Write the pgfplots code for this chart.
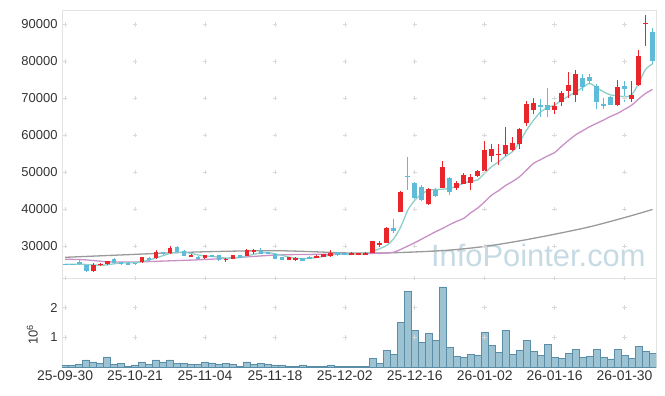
\documentclass[border=0pt]{standalone}
\usepackage{pgfplots}
\pgfplotsset{compat=1.18}
\usepackage{pgfplotstable}
\usepackage{fontspec}
\setmainfont{Liberation Sans}
\definecolor{upred}{HTML}{E8262C}
\definecolor{dncyan}{HTML}{5EBCD8}
\definecolor{mafive}{HTML}{8ECFC9}
\definecolor{matwenty}{HTML}{C990C8}
\definecolor{masixty}{HTML}{9A9A9A}
\definecolor{volfill}{HTML}{9DC2D2}
\definecolor{voledge}{HTML}{5A8EA8}
\definecolor{gridc}{HTML}{D9D9D9}
\definecolor{framec}{HTML}{E3E3E3}
\definecolor{wm}{HTML}{C6DAE4}
\definecolor{txt}{HTML}{333333}

% up candles: index open high low close
\pgfplotstableread{
i o h l c
4 23200 25300 23100 24800
5 24800 25500 24600 25250
6 25050 25900 25000 25850
11 25600 27100 25500 26900
13 26700 28900 26500 28400
15 28000 29950 27900 29500
18 27100 27750 27000 27650
20 26750 27700 26600 27550
23 26300 26750 25800 26500
24 26550 27700 26450 27550
26 27400 29200 27300 29000
27 28450 29300 27900 28850
32 26350 27000 26200 26900
33 26350 26900 26000 26600
36 26850 27450 26800 27400
37 27150 27900 27100 27850
38 27400 28900 27100 28050
41 27600 28300 27500 28150
42 27600 28200 27500 28100
43 27700 28300 27600 28200
44 28100 31500 28000 31350
45 30350 31500 29750 30700
46 30900 35050 30700 34900
48 39300 44900 39200 44700
52 41300 45800 41200 45400
54 45800 52900 45700 51450
56 45800 47600 45300 47150
57 46900 49700 46800 49300
58 47150 49500 45100 48750
59 49000 50600 48800 50300
60 50300 58500 50200 56000
61 54450 57600 52700 56350
62 54550 57600 51900 55000
63 54800 62200 54500 57400
64 55900 59400 55700 57800
65 57500 61900 56300 61600
66 63200 69300 62500 68400
67 66900 70100 65700 68600
70 66800 69000 65700 67900
71 68950 72000 67800 71300
72 72000 77000 69950 73550
73 70850 77550 69050 76550
79 68300 74900 67800 72950
81 69750 74650 69000 70850
82 73550 83050 73200 81400
83 90000 92500 84100 90350
}\upc

% down candles
\pgfplotstableread{
i o h l c
0 25150 25250 24950 24950
1 25100 25200 24950 24950
2 25600 26200 24900 25050
3 24800 25000 23000 23200
7 26450 26700 25300 25400
8 25550 25700 25000 25050
9 25500 25600 24950 25000
10 25350 25500 25000 25150
12 26800 27000 26000 26100
14 28300 28500 27700 27800
16 29800 29900 28200 28300
17 28700 28900 27300 27350
19 27100 27200 26400 26500
21 27450 27600 27000 27050
22 27550 27700 26000 26150
25 27550 27700 26700 26850
28 28650 29350 27850 27950
29 28300 28400 27850 27950
30 27950 28000 26500 26600
31 27000 27100 26250 26300
34 26750 26850 25950 26050
35 27100 27200 26500 26600
39 28400 28500 27300 27500
40 28100 28200 27500 27600
47 34950 37400 33400 34150
49 48950 54000 45300 48650
50 47100 47300 42800 43100
51 46050 46400 42100 42450
53 45150 45700 43350 43600
55 48400 48600 43800 44550
68 68050 69700 65000 67700
69 68050 72900 65000 66800
74 75450 76550 71850 72950
75 75750 76550 73750 74650
76 73300 74000 67000 69050
77 68400 69950 67000 67900
78 70300 70500 68100 68250
80 73200 74650 69050 72550
84 87900 89100 79400 80050
}\dnc

\pgfplotstableread{
i v
0 25050
1 25050
2 25100
3 25000
4 24900
5 24800
6 24900
7 25200
8 25400
9 25500
10 25500
11 25800
12 26200
13 26800
14 27400
15 28000
16 28300
17 28300
18 28000
19 27600
20 27300
21 27200
22 27000
23 26700
24 26800
25 26900
26 27300
27 27800
28 28100
29 28200
30 27900
31 27500
32 27000
33 26700
34 26600
35 26700
36 26900
37 27200
38 27600
39 27800
40 27800
41 27800
42 27900
43 28000
44 28600
45 29300
46 30200
47 32000
48 35200
49 39700
50 42400
51 44100
52 45100
53 45300
54 45400
55 45600
56 46200
57 47000
58 47600
59 47900
60 49700
61 51500
62 52800
63 54300
64 55600
65 58200
66 61400
67 64100
68 66300
69 67500
70 68150
71 69500
72 70600
73 71750
74 72900
75 74000
76 72900
77 71750
78 70900
79 70700
80 70400
81 70900
82 74000
83 77800
84 79300
}\mafivetab

\pgfplotstableread{
i v
0 26450
3 26250
6 25750
9 25650
12 25800
15 26000
18 26200
21 26450
24 26800
27 27200
30 27550
33 27700
36 27750
39 27850
42 27900
44 28000
46 28150
47 28350
48 29100
49 30000
50 30900
51 31900
52 32900
53 33900
54 34800
55 35800
56 36700
57 37500
58 39000
59 40300
60 42000
61 43800
62 45000
63 46400
64 47500
65 48800
66 50600
67 52400
68 53400
69 54400
70 55300
71 57000
72 58600
73 60100
74 61200
75 62300
76 63200
77 64100
78 65100
79 65900
80 67000
81 68100
82 69800
83 71300
84 72400
}\matwentytab

\pgfplotstableread{
i v
0 26950
5 27350
10 27750
15 28150
20 28450
25 28650
30 28750
35 28500
40 28150
45 28100
50 28400
55 28900
60 29900
65 31400
70 33200
75 35200
80 37700
84 39900
}\masixtytab

\pgfplotstableread{
i v
0 50000
1 50000
2 100000
3 240000
4 170000
5 130000
6 340000
7 100000
8 130000
9 30000
10 70000
11 170000
12 100000
13 240000
14 170000
15 240000
16 130000
17 130000
18 100000
19 100000
20 170000
21 130000
22 100000
23 130000
24 100000
25 30000
26 170000
27 100000
28 130000
29 100000
30 70000
31 70000
32 30000
33 30000
34 70000
35 30000
36 30000
37 30000
38 70000
39 30000
40 30000
41 30000
42 30000
43 30000
44 300000
45 130000
46 570000
47 430000
48 1500000
49 2540000
50 1230000
51 830000
52 1130000
53 900000
54 2700000
55 670000
56 370000
57 330000
58 430000
59 400000
60 1170000
61 730000
62 500000
63 1230000
64 430000
65 570000
66 900000
67 530000
68 400000
69 770000
70 330000
71 300000
72 470000
73 600000
74 330000
75 370000
76 600000
77 330000
78 270000
79 600000
80 400000
81 300000
82 700000
83 530000
84 470000
}\voltab

\pgfplotsset{
  base/.style={
    scale only axis, width=594bp,
    xmin=-0.45, xmax=84.5,
    axis line style={framec, line width=0.8bp},
    major tick length=0pt,
    tick style={draw=none},
    ticklabel style={font=\fontsize{13}{15}\selectfont, text=txt},
    /pgf/number format/assume math mode=true,
  },
  crossmark/.style={only marks, mark=+, mark size=2.2bp, gridc, mark options={line width=0.6bp}},
  candle/.style={only marks, mark=none, mark size=0pt, mark options={draw=none, fill=none}},
}

\begin{document}
\begin{tikzpicture}
\begin{axis}[base, name=main, set layers,
  at={(0bp,89bp)}, anchor=south west, height=268bp,
  ymin=21350, ymax=93900,
  xtick=\empty,
  ytick={30000,40000,50000,60000,70000,80000,90000},
  scaled y ticks=false,
  yticklabel style={xshift=-1bp, /pgf/number format/fixed, /pgf/number format/1000 sep={}},
]
\begin{pgfonlayer}{axis background}
\node[text=wm, anchor=base west, inner sep=0pt, font=\fontsize{31}{31}\selectfont] at (axis cs:52.3,24550) {InfoPointer.com};
\end{pgfonlayer}
\pgfplotsinvokeforeach{30000,40000,50000,60000,70000,80000,90000}{
  \addplot[crossmark] coordinates {(0,#1) (10,#1) (20,#1) (30,#1) (40,#1) (50,#1) (60,#1) (70,#1) (80,#1)};
}
\addplot[masixty, line width=1.3bp, smooth, mark=none] table[x=i, y=v] {\masixtytab};
\addplot[matwenty, line width=1.3bp, smooth, mark=none] table[x=i, y=v] {\matwentytab};
\addplot[mafive, line width=1.3bp, smooth, mark=none] table[x=i, y=v] {\mafivetab};
% wicks
\addplot[upred, candle, error bars/.cd, y dir=plus, y explicit,
  error mark=none, error bar style={line width=1bp, upred}]
  table[x=i, y=l, y error plus expr={\thisrow{h}-\thisrow{l}}] {\upc};
\addplot[dncyan, candle, error bars/.cd, y dir=plus, y explicit,
  error mark=none, error bar style={line width=1bp, dncyan}]
  table[x=i, y=l, y error plus expr={\thisrow{h}-\thisrow{l}}] {\dnc};
% bodies
\addplot[upred, candle, error bars/.cd, y dir=plus, y explicit,
  error mark=none, error bar style={line width=4.8bp, upred}]
  table[x=i, y expr={min(\thisrow{o},\thisrow{c})}, y error plus expr={max(abs(\thisrow{c}-\thisrow{o}),300)}] {\upc};
\addplot[dncyan, candle, error bars/.cd, y dir=plus, y explicit,
  error mark=none, error bar style={line width=4.8bp, dncyan}]
  table[x=i, y expr={min(\thisrow{o},\thisrow{c})}, y error plus expr={max(abs(\thisrow{c}-\thisrow{o}),300)}] {\dnc};
\end{axis}

\begin{axis}[base, name=vol,
  at={(0bp,0bp)}, anchor=south west, height=89bp,
  ymin=0, ymax=3000000,
  xtick={0,10,20,30,40,50,60,70,80},
  xticklabels={25-09-30,25-10-21,25-11-04,25-11-18,25-12-02,25-12-16,26-01-02,26-01-16,26-01-30},
  xticklabel style={yshift=-0.5bp, font=\fontsize{14}{16}\selectfont},
  ytick={1000000,2000000}, yticklabels={1,2},
  scaled y ticks=false,
  yticklabel style={xshift=-1bp},
  ylabel={10\textsuperscript{6}},
  ylabel style={at={(axis description cs:-0.05,0.36)}, anchor=center, font=\fontsize{13}{15}\selectfont, text=txt},
]
\pgfplotsinvokeforeach{1000000,2000000,3000000}{
  \addplot[crossmark] coordinates {(0,#1) (10,#1) (20,#1) (30,#1) (40,#1) (50,#1) (60,#1) (70,#1) (80,#1)};
}
\addplot[ybar, bar width=1, bar shift=0pt, fill=volfill, draw=voledge, line width=0.7bp] table[x=i, y=v] {\voltab};
\end{axis}
\pgfresetboundingbox
\useasboundingbox (-62bp,-29bp) rectangle (603bp,367bp);
\end{tikzpicture}
\end{document}
